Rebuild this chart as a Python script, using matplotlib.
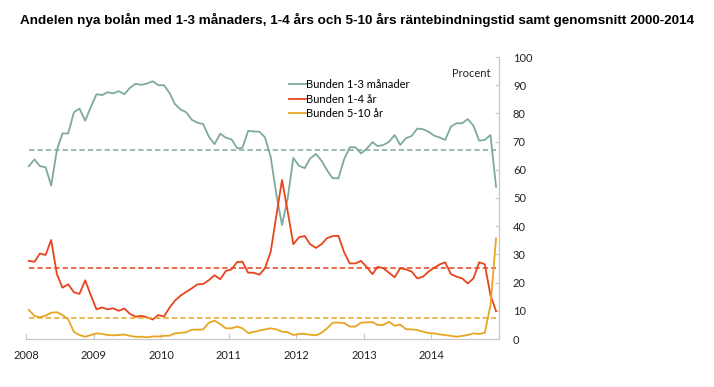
import numpy as np
import pandas as pd
import matplotlib
matplotlib.use("Agg")
import matplotlib.pyplot as plt

# monthly data Jan 2008 - Dec 2014, percent of new mortgages
months = pd.date_range("2008-01-01", "2014-12-01", freq="MS") + pd.Timedelta(days=15)

bunden_3m = [
    61.3, 63.7, 61.3, 60.9, 54.4, 67.0, 72.9, 72.9, 80.4, 81.7, 77.4, 82.2,
    86.8, 86.5, 87.5, 87.1, 87.9, 86.8, 89.1, 90.5, 90.1, 90.6, 91.4, 90.0,
    90.0, 87.1, 83.3, 81.4, 80.4, 77.7, 76.7, 76.2, 71.7, 69.1, 72.8, 71.4,
    70.8, 67.6, 67.8, 73.8, 73.6, 73.5, 71.5, 64.5, 51.0, 40.4, 50.0, 64.2,
    61.4, 60.6, 64.0, 65.6, 63.3, 59.8, 57.0, 57.0, 63.8, 68.0, 68.0, 65.8,
    67.5, 69.8, 68.4, 68.8, 69.9, 72.3, 68.8, 71.2, 72.0, 74.6, 74.4, 73.5,
    72.1, 71.4, 70.6, 75.3, 76.5, 76.5, 78.0, 75.6, 70.3, 70.6, 72.3, 54.0,
]
bunden_1_4 = [
    27.7, 27.4, 30.3, 29.8, 35.1, 23.0, 18.2, 19.4, 16.6, 16.0, 20.8, 15.6,
    10.5, 11.2, 10.5, 10.9, 10.0, 10.8, 8.9, 7.9, 8.2, 7.7, 6.9, 8.5,
    8.0, 11.2, 13.6, 15.4, 16.7, 18.0, 19.4, 19.5, 20.9, 22.6, 21.2, 24.1,
    24.7, 27.3, 27.4, 23.5, 23.5, 22.8, 25.1, 31.0, 44.0, 56.4, 45.1, 33.6,
    36.1, 36.5, 33.6, 32.3, 33.6, 35.8, 36.5, 36.6, 30.7, 26.8, 26.8, 27.7,
    25.5, 23.0, 25.6, 25.1, 23.5, 21.9, 25.1, 24.7, 23.9, 21.5, 22.1, 23.9,
    25.3, 26.5, 27.2, 23.0, 22.1, 21.5, 19.7, 21.5, 27.2, 26.5, 15.5, 9.9,
]
bunden_5_10 = [
    10.3, 8.2, 7.7, 8.3, 9.3, 9.5, 8.5, 7.0, 2.5, 1.4, 0.8, 1.4,
    2.0, 1.8, 1.4, 1.3, 1.4, 1.6, 1.1, 0.8, 0.8, 0.6, 0.9, 0.9,
    1.1, 1.2, 2.0, 2.2, 2.4, 3.3, 3.3, 3.4, 5.8, 6.5, 5.3, 3.8,
    3.8, 4.4, 3.8, 2.1, 2.5, 3.0, 3.4, 3.8, 3.4, 2.6, 2.4, 1.4,
    1.8, 1.8, 1.5, 1.3, 2.2, 3.8, 5.8, 5.8, 5.7, 4.4, 4.4, 5.8,
    5.9, 6.0, 5.0, 5.0, 6.1, 4.7, 5.1, 3.5, 3.4, 3.2, 2.6, 2.1,
    2.0, 1.6, 1.4, 1.1, 0.8, 1.1, 1.4, 2.0, 1.8, 2.2, 12.0, 35.6,
]
# averages 2000-2014
snitt = [67.0, 25.3, 7.3]

labels = ["Bunden 1-3 månader", "Bunden 1-4 år", "Bunden 5-10 år"]
colors = ["#7eab99", "#e8441c", "#e6a622"]
years = list(range(2008, 2016))
year_labels = [str(y) for y in years[:-1]] + [""]

fig = plt.figure(figsize=(7.14, 3.87), dpi=100)
ax = fig.add_axes([26 / 714, 1 - 339 / 387, 473 / 714, 282 / 387])

for series, avg, lab, col in zip([bunden_3m, bunden_1_4, bunden_5_10], snitt, labels, colors):
    ax.plot(months, series, color=col, lw=1.3, label=lab)
    ax.hlines(avg, months[0], months[-1], colors=col, lw=1.1, linestyles=(0, (3.5, 2)))

ax.set_xlim(pd.Timestamp("2008-01-01"), pd.Timestamp("2015-01-01"))
ax.set_ylim(0, 100)

ax.set_xticks([pd.Timestamp(f"{y}-01-01") for y in years])
ax.set_xticklabels(year_labels)
ax.yaxis.tick_right()
ax.set_yticks(range(0, 101, 10))

for side in ["left", "top"]:
    ax.spines[side].set_visible(False)
for side in ["bottom", "right"]:
    ax.spines[side].set_color("#c8c8c8")
    ax.spines[side].set_linewidth(0.9)

ax.tick_params(axis="x", direction="in", length=4, color="#c8c8c8", pad=8,
               labelsize=8, labelcolor="#222222")
ax.tick_params(axis="y", direction="in", length=3, color="#c8c8c8", pad=10,
               labelsize=8, labelcolor="#222222")
for t in ax.get_xticklabels() + ax.get_yticklabels():
    t.set_fontfamily("Lato")

ax.text(0.983, 0.942, "Procent", transform=ax.transAxes, ha="right", va="center",
        fontsize=8, family="Lato", color="#222222")

ax.legend(loc="upper left", bbox_to_anchor=(0.557, 0.922), frameon=False,
          handlelength=1.5, handletextpad=0.0, labelspacing=0.33,
          borderpad=0, borderaxespad=0, prop={"family": "Lato", "size": 8})

fig.text(0.5, 0.948, "Andelen nya bolån med 1-3 månaders, 1-4 års och 5-10 års "
         "räntebindningstid samt genomsnitt 2000-2014",
         ha="center", va="center", fontsize=9.7, fontweight="bold",
         family="Liberation Sans")

fig.savefig("out.png", dpi=100)
